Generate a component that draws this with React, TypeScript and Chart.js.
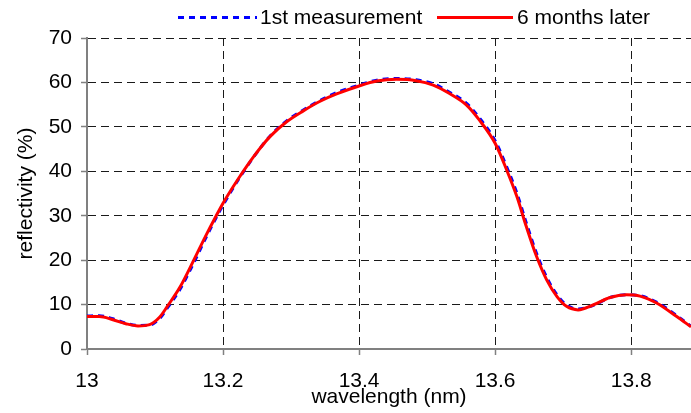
import React, { useEffect, useRef } from "react";
import { Chart, registerables } from "chart.js";

Chart.register(...registerables);

const wavelengths = [
  13.0, 13.018, 13.038, 13.057, 13.075, 13.092, 13.107, 13.119, 13.137, 13.157,
  13.174, 13.19, 13.2, 13.222, 13.245, 13.269, 13.294, 13.318, 13.342, 13.367,
  13.4, 13.426, 13.455, 13.484, 13.509, 13.533, 13.558, 13.577, 13.6, 13.617,
  13.632, 13.646, 13.661, 13.676, 13.691, 13.705, 13.722, 13.744, 13.769, 13.793,
  13.813, 13.838, 13.867, 13.888,
];

const firstMeasurement = [
  7.4, 7.5, 6.8, 5.8, 5.3, 5.4, 6.9, 9.4, 13.5, 19.4,
  24.8, 29.6, 32.4, 38.0, 43.2, 47.9, 51.4, 53.8, 55.9, 57.7,
  59.4, 60.5, 60.9, 60.6, 59.7, 57.8, 55.3, 52.0, 46.9, 41.0,
  35.1, 28.3, 21.5, 16.1, 12.2, 9.9, 9.0, 9.8, 11.6, 12.2,
  12.0, 10.5, 7.5, 5.1,
];

const sixMonthsLater = [
  7.3, 7.3, 6.6, 5.7, 5.2, 5.5, 7.2, 9.8, 14.0, 20.0,
  25.3, 30.0, 32.8, 38.2, 43.3, 47.8, 51.2, 53.6, 55.7, 57.4,
  59.2, 60.3, 60.7, 60.4, 59.4, 57.5, 54.9, 51.5, 46.3, 40.3,
  34.3, 27.5, 20.8, 15.5, 11.8, 9.6, 8.8, 9.9, 11.6, 12.2,
  11.9, 10.3, 7.3, 5.0,
];

const seriesLabels = ["1st measurement", "6 months later"];
const xTitle = "wavelength (nm)";
const yTitle = "reflectivity (%)";

const FONT = "'Liberation Sans', Arial, Helvetica, sans-serif";

const legendPlugin = {
  id: "customLegend",
  afterDraw(chart: any) {
    const ctx = chart.ctx;
    const slots = [
      { x0: 178, x1: 257, tx: 260 },
      { x0: 437, x1: 513, tx: 517 },
    ];
    const y = 17.5;
    chart.data.datasets.forEach((ds: any, i: number) => {
      const s = slots[i];
      if (!s) return;
      ctx.save();
      ctx.strokeStyle = ds.borderColor;
      ctx.lineWidth = 3;
      ctx.setLineDash(ds.borderDash || []);
      ctx.beginPath();
      ctx.moveTo(s.x0, y);
      ctx.lineTo(s.x1, y);
      ctx.stroke();
      ctx.setLineDash([]);
      ctx.fillStyle = "#000";
      ctx.font = `21px ${FONT}`;
      ctx.textBaseline = "middle";
      ctx.textAlign = "left";
      ctx.fillText(ds.label, s.tx, y + 1);
      ctx.restore();
    });
  },
};

export default function App() {
  const ref = useRef<HTMLCanvasElement | null>(null);

  useEffect(() => {
    if (!ref.current) return;
    const blue = wavelengths.map((x, i) => ({ x, y: firstMeasurement[i] }));
    const red = wavelengths.map((x, i) => ({ x, y: sixMonthsLater[i] }));
    const chart = new Chart(ref.current, {
      type: "line",
      data: {
        datasets: [
          {
            label: seriesLabels[0],
            data: blue,
            borderColor: "#0000ff",
            borderWidth: 3,
            borderDash: [6, 5],
            pointRadius: 0,
            cubicInterpolationMode: "monotone",
            fill: false,
            order: 1,
          },
          {
            label: seriesLabels[1],
            data: red,
            borderColor: "#ff0000",
            borderWidth: 3,
            pointRadius: 0,
            cubicInterpolationMode: "monotone",
            fill: false,
            order: 0,
          },
        ],
      },
      options: {
        animation: false,
        responsive: false,
        maintainAspectRatio: false,
        layout: { padding: { top: 38, left: 0, right: 0, bottom: 0 } },
        plugins: {
          legend: { display: false },
          tooltip: { enabled: false },
        },
        scales: {
          x: {
            type: "linear",
            min: 13,
            max: 13.888,
            afterFit: (s: any) => {
              s.height = 64;
            },
            ticks: {
              stepSize: 0.2,
              includeBounds: false,
              color: "#000",
              padding: 14,
              maxRotation: 0,
              autoSkip: false,
              font: { family: FONT, size: 21 },
              callback: (v: any) => String(Math.round(Number(v) * 10) / 10),
            },
            grid: {
              color: "#1a1a1a",
              lineWidth: 1,
              drawTicks: true,
              tickLength: 6,
              tickColor: "#808080",
              tickWidth: 1.5,
            },
            border: { display: true, color: "#808080", width: 2, dash: [8, 5] },
            title: {
              display: true,
              text: xTitle,
              color: "#000",
              font: { family: FONT, size: 21, lineHeight: 1.2 },
              padding: { top: 0, bottom: 3 },
            },
          },
          y: {
            type: "linear",
            min: 0,
            max: 70,
            afterFit: (s: any) => {
              s.width = 87;
            },
            ticks: {
              stepSize: 10,
              color: "#000",
              padding: 9,
              font: { family: FONT, size: 21 },
            },
            grid: {
              color: "#1a1a1a",
              lineWidth: 1,
              drawTicks: true,
              tickLength: 6,
              tickColor: "#808080",
              tickWidth: 1.5,
            },
            border: { display: true, color: "#808080", width: 2, dash: [8, 5] },
            title: {
              display: true,
              text: yTitle,
              color: "#000",
              font: { family: FONT, size: 21, lineHeight: 1.2 },
              padding: { top: 14, bottom: 0 },
            },
          },
        },
      },
      plugins: [legendPlugin],
    });
    return () => chart.destroy();
  }, []);

  return (
    <div style={{ position: "fixed", left: 0, top: 0, width: 691, height: 413, background: "#fff" }}>
      <canvas ref={ref} width={691} height={413} style={{ width: 691, height: 413, display: "block" }} />
    </div>
  );
}
